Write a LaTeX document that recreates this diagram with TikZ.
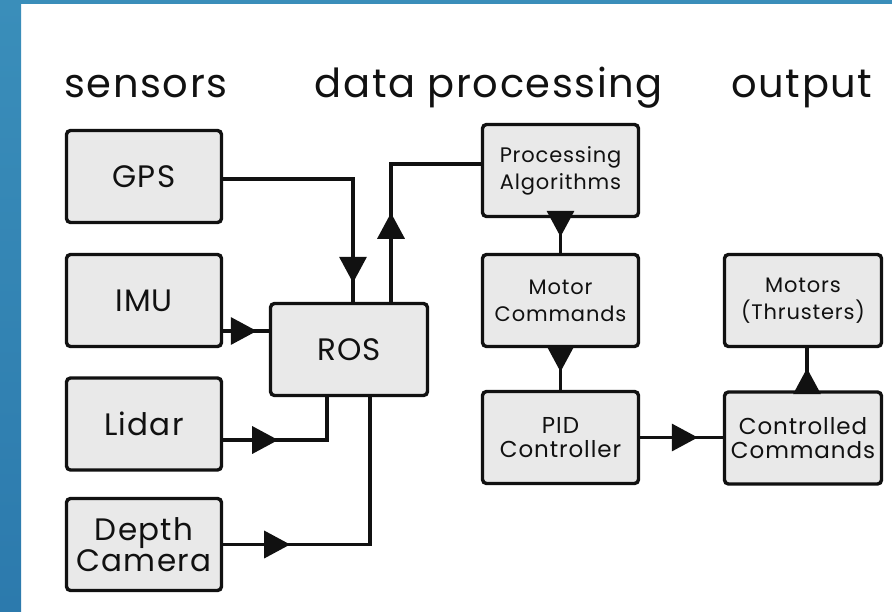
\documentclass[tikz,border=0pt]{standalone}
\usepackage{fontspec}
\setmainfont{Poppins}[LetterSpace=4]
\usetikzlibrary{arrows.meta,decorations.markings,calc}
\definecolor{bluebg}{HTML}{3A8EBA}
\definecolor{bluebgdark}{HTML}{2C7AAD}
\definecolor{boxfill}{HTML}{E9E9E9}
\definecolor{ink}{HTML}{111111}
\begin{document}
\begin{tikzpicture}[x=1pt,y=-1pt,
  blk/.style={draw=ink, line width=3.4pt, fill=boxfill, rounded corners=4pt,
    minimum width=155pt, minimum height=92pt, inner sep=0pt, align=center, text=ink},
  bigtxt/.style={font=\fontsize{31}{25}\selectfont},
  midtxt/.style={font=\fontsize{23}{24}\selectfont},
  smalltxt/.style={font=\fontsize{21}{27}\selectfont},
  title/.style={font=\fontsize{40}{40}\selectfont, anchor=base, text=ink, inner sep=0pt},
  conn/.style={draw=ink, line width=3.4pt},
  tipat/.style={postaction={decorate}, decoration={markings,
    mark=at position #1 with {\arrow{Triangle[length=26pt,width=27pt]}}}}
]
\useasboundingbox (0,0) rectangle (892,611);
\fill[white] (0,0) rectangle (892,611);
\shade[top color=bluebg, bottom color=bluebgdark] (0,0) rectangle (21,611);
\fill[bluebg] (0,0) rectangle (892,4);

\node[title] (tsens) at (146,97) {sensors};
\node[title] (tproc) at (489,97) {data processing};
\node[title] (tout) at (802,97) {output};

\node[blk, bigtxt] (GPS) at (144,176.5) {GPS};
\node[blk, bigtxt] (IMU) at (144,300.5) {IMU};
\node[blk, bigtxt] (Lidar) at (144,424) {Lidar};
\node[blk, bigtxt] (Depth) at (144,544.5) {Depth\\Camera};
\node[blk, bigtxt, minimum width=157pt] (ROS) at (349,349.5) {ROS};
\node[blk, smalltxt, minimum width=156pt] (PA) at (560.5,170.5) {Processing\\Algorithms};
\node[blk, smalltxt, minimum width=156pt] (MC) at (560.5,300.5) {Motor\\Commands};
\node[blk, midtxt, minimum width=156pt] (PID) at (560.5,437.5) {PID\\Controller};
\node[blk, smalltxt, minimum width=157pt] (Motors) at (803,300.5) {Motors\\(Thrusters)};
\node[blk, midtxt, minimum width=157pt] (CC) at (803,438) {Controlled\\Commands};

\coordinate (imuout) at ($(IMU.east)+(0,30.5)$);
\coordinate (lidout) at ($(Lidar.east)+(0,16)$);

\draw[conn, tipat=-19pt] ([yshift=-2.5pt]GPS.east) -| ([xshift=4pt]ROS.north);
\draw[conn, tipat=89pt] ([xshift=42pt]ROS.north) |- ([yshift=6.5pt]PA.west);
\draw[conn, tipat=-12pt] (imuout) -- (imuout -| ROS.west);
\draw[conn, tipat=55pt] (lidout) -| ($(ROS.south)+(-22,0)$);
\draw[conn, tipat=67pt] (Depth.east) -| ($(ROS.south)+(21,0)$);
\draw[conn, tipat=-16pt] (PA.south) -- (MC.north);
\draw[conn, tipat=-18pt] (MC.south) -- (PID.north);
\draw[conn, tipat=-25pt] (PID.east) -- (PID.east -| CC.west);
\draw[conn, tipat=-20pt] ($(CC.north)+(4,0)$) -- ($(Motors.south)+(4,0)$);
\end{tikzpicture}
\end{document}
